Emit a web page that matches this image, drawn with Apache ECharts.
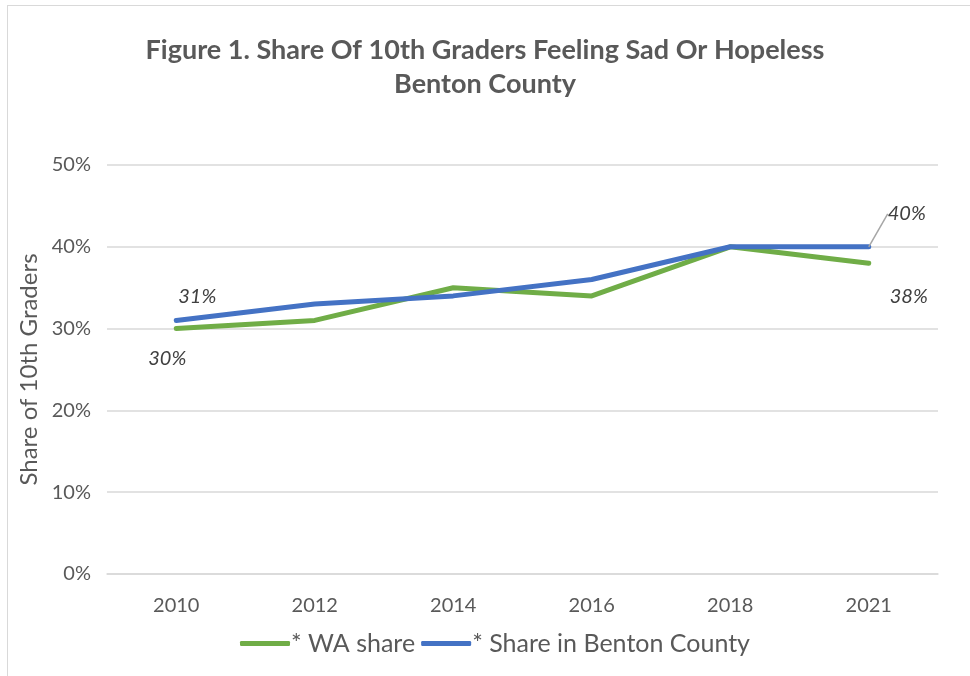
<!DOCTYPE html>
<html>
<head>
<meta charset="utf-8">
<script src="https://cdn.jsdelivr.net/npm/echarts@6/dist/echarts.min.js"></script>
<style>
  body { margin: 0; background: #fff; }
  #chart { position: absolute; left: 0; top: 0; width: 970px; height: 676px; }
  #frame { position: absolute; left: 7px; top: 5px; width: 1000px; height: 1000px;
           border: 1.5px solid #d9d9d9; pointer-events: none; }
</style>
</head>
<body>
<div id="chart"></div>
<div id="frame"></div>
<script>
// 数据
const years = ['2010', '2012', '2014', '2016', '2018', '2021'];
const waShare = [30, 31, 35, 34, 40, 38];
const bentonShare = [31, 33, 34, 36, 40, 40];
const yTicks = [0, 10, 20, 30, 40, 50];

const FONT = 'Lato, "Open Sans", sans-serif';
const GREY = '#595959';

// 只给首尾点加标签
function labelled(values, cfg) {
    return values.map((v, i) => {
        const c = cfg[i];
        if (!c) return { value: v, label: { show: false } };
        return Object.assign({ value: v }, c);
    });
}

const labelStyle = { show: true, fontFamily: FONT, fontStyle: 'italic', fontSize: 20, color: '#404040',
    formatter: p => p.value + '%' };

const waData = labelled(waShare, {
    0: { label: Object.assign({}, labelStyle, { position: 'bottom', offset: [-9, 15] }) },
    5: { label: Object.assign({}, labelStyle, { position: 'bottom', offset: [40, 18] }) }
});
const bentonData = labelled(bentonShare, {
    0: { label: Object.assign({}, labelStyle, { position: 'top' }) },
    5: { label: Object.assign({}, labelStyle, { position: 'top' }),
         labelLine: { show: true, smooth: false, lineStyle: { color: '#a6a6a6', width: 1.5 } } }
});

// 31% 和 40% 标签的偏移 (labelLayout 会覆盖 offset)
function bentonLabelLayout(p) {
    if (p.dataIndex === 0) return { dx: 21, dy: -9 };
    if (p.dataIndex === 5) return { dx: 38, dy: -18 };
    return {};
}

const chart = echarts.init(document.getElementById('chart'));
chart.setOption({
    animation: false,
    title: {
        text: 'Figure 1. Share Of 10th Graders Feeling Sad Or Hopeless\nBenton County',
        left: 'center', top: 28,
        textStyle: { fontFamily: FONT, fontWeight: 'bold', fontSize: 27, color: GREY, lineHeight: 34 }
    },
    grid: { left: 107, right: 32, top: 165, bottom: 102 },
    legend: {
        bottom: 15, left: 235,
        icon: 'roundRect', itemWidth: 50, itemHeight: 5, itemGap: 6,
        textStyle: { fontFamily: FONT, fontSize: 25, color: GREY, padding: [0, 0, 0, -4] },
        data: ['* WA share', '* Share in Benton County']
    },
    xAxis: {
        type: 'category', data: years, boundaryGap: true,
        axisLine: { lineStyle: { color: '#d9d9d9', width: 1.5 } },
        axisTick: { show: false },
        axisLabel: { fontFamily: FONT, fontSize: 20, color: GREY, margin: 22 }
    },
    yAxis: {
        type: 'value', min: yTicks[0], max: yTicks[yTicks.length - 1], interval: 10,
        name: 'Share of 10th Graders', nameLocation: 'middle', nameGap: 66,
        nameTextStyle: { fontFamily: FONT, fontSize: 24, color: GREY },
        axisLabel: { fontFamily: FONT, fontSize: 20, color: GREY, margin: 16, formatter: v => v + '%' },
        splitLine: { lineStyle: { color: '#d9d9d9', width: 1.5 } }
    },
    series: [
        {
            name: '* WA share', type: 'line', data: waData,
            symbol: 'circle', symbolSize: 0, showSymbol: true,
            lineStyle: { color: '#70ad47', width: 5, cap: 'round' },
            itemStyle: { color: '#70ad47' }
        },
        {
            name: '* Share in Benton County', type: 'line', data: bentonData,
            symbol: 'circle', symbolSize: 0, showSymbol: true,
            lineStyle: { color: '#4472c4', width: 5, cap: 'round' },
            itemStyle: { color: '#4472c4' },
            labelLayout: bentonLabelLayout
        }
    ]
});
</script>
</body>
</html>
